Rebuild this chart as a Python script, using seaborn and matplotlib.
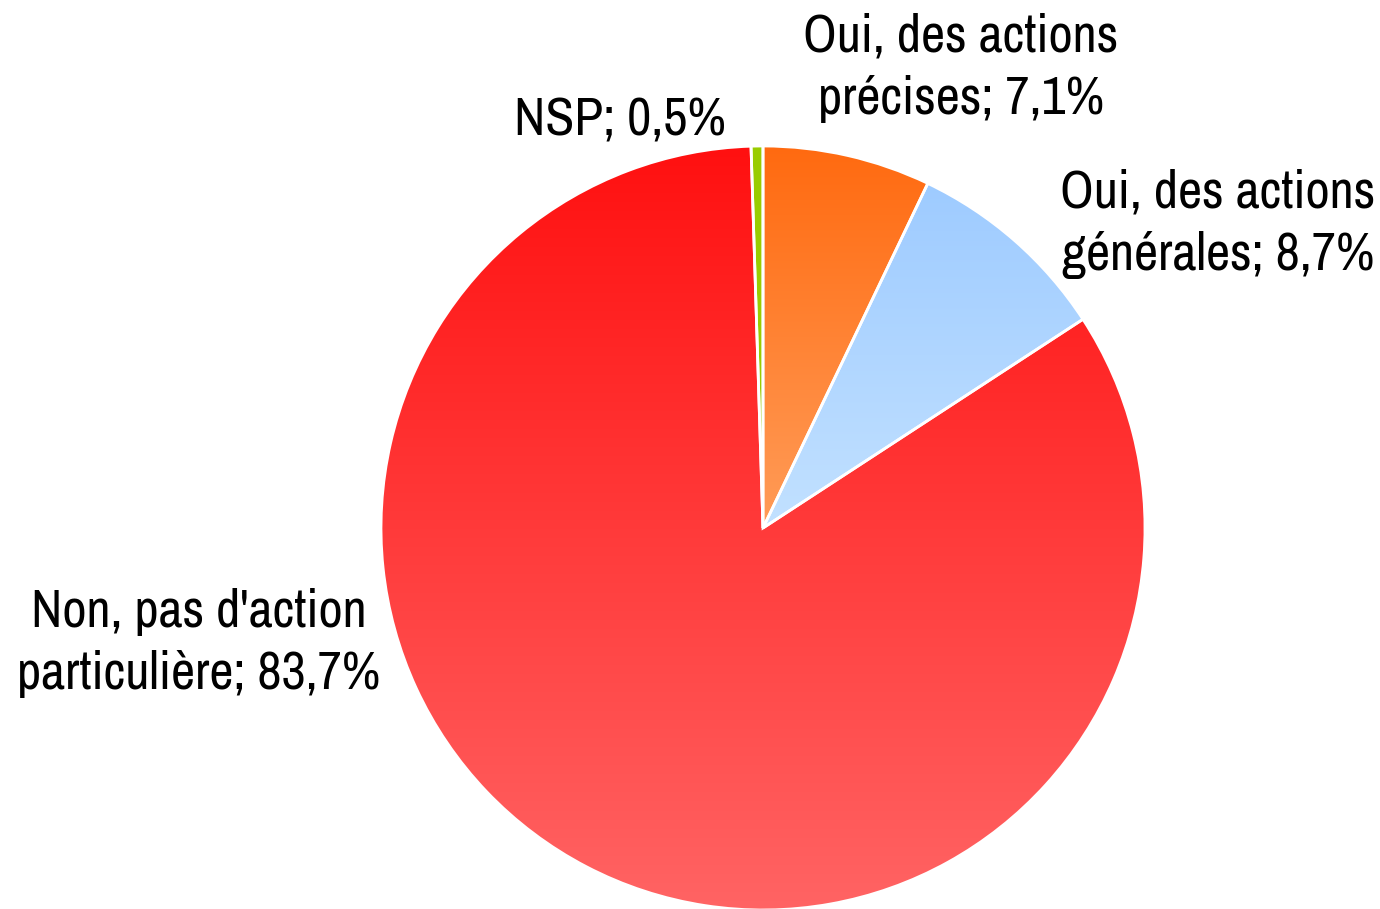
import numpy as np
import seaborn as sns
import matplotlib.pyplot as plt

labels = ["Oui, des actions\nprécises; 7,1%",
          "Oui, des actions\ngénérales; 8,7%",
          "Non, pas d'action\nparticulière; 83,7%",
          "NSP; 0,5%"]
values = [7.1, 8.7, 83.7, 0.5]
top_colors = ["#ff6a10", "#9ecbff", "#ff1010", "#99cc00"]
bottom_colors = ["#ff9c58", "#c2e1ff", "#ff6464", "#99cc00"]

sns.set_theme(style="white")
plt.rcParams['font.family'] = ['Liberation Sans Narrow', 'Archivo Narrow', 'DejaVu Sans']

fig = plt.figure(figsize=(13.8, 9.09), dpi=100)
ax = fig.add_axes([0, 0, 1, 1])

# pie centre at pixel (763, 528), radius 382 px
cx, cy, r = 763, 528, 382

wedges, _ = ax.pie(values, startangle=90, counterclock=False,
                   colors=top_colors,
                   wedgeprops=dict(edgecolor="white", linewidth=2))

# vertical gradient inside each wedge
grad = np.linspace(0, 1, 256).reshape(-1, 1)
for w, c1, c2 in zip(wedges, top_colors, bottom_colors):
    v = w.get_path().vertices
    x0, x1 = v[:, 0].min(), v[:, 0].max()
    y0, y1 = v[:, 1].min(), v[:, 1].max()
    cmap = sns.blend_palette([c1, c2], n_colors=256, as_cmap=True)
    im = ax.imshow(grad, cmap=cmap, extent=[x0, x1, y0, y1],
                   origin="upper", aspect="auto", zorder=0.5,
                   interpolation="bilinear")
    im.set_clip_path(w)
    w.set_facecolor("none")
    w.set_zorder(1)

ax.set_xlim(-cx / r, (1380 - cx) / r)
ax.set_ylim((cy - 909) / r, cy / r)
ax.set_aspect("auto")
ax.axis("off")

# label centres in pixels
label_pos = [(961, 68), (1218, 224), (199, 643), (620, 121)]
for txt, (px, py) in zip(labels, label_pos):
    ax.text((px - cx) / r, (cy - py) / r, txt, ha="center", va="center",
            fontsize=38, color="black", multialignment="center",
            linespacing=1.38)

fig.savefig("out.png", dpi=100)
